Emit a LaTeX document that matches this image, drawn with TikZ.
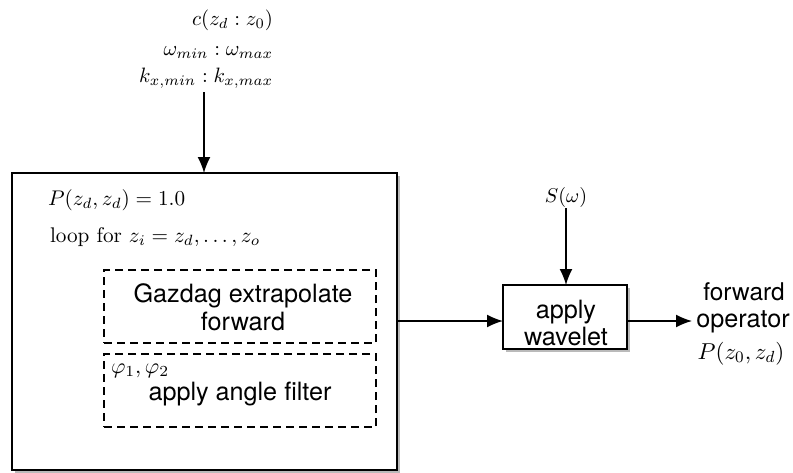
\RequirePackage{fix-cm}
\documentclass[tikz,border=0pt]{standalone}
\usepackage{fontspec}
\setsansfont{TeX Gyre Heros}
\usetikzlibrary{arrows.meta,shadows}
\begin{document}
\begin{tikzpicture}[x=0.5pt,y=-0.5pt,
  every node/.style={inner sep=0pt,outer sep=0pt},
  sans/.style={font=\sffamily\fontsize{12.6}{14}\selectfont},
  biglbl/.style={font=\fontsize{10.6}{12}\selectfont},
  toplbl/.style={font=\fontsize{10.4}{12}\selectfont},
  mainbox/.style={draw,line width=1pt,fill=white,drop shadow={shadow xshift=1.6pt,shadow yshift=-1.6pt,fill=black!45,opacity=0.6}},
  dashbox/.style={draw,dashed,line width=0.7pt,dash pattern=on 4pt off 2.5pt},
  conn/.style={line width=0.8pt,-{Latex[length=8pt,width=6.5pt]}}]
\useasboundingbox (0,0) rectangle (793,472);
% main box
\node[mainbox,anchor=north west,minimum width=192.5pt,minimum height=148.5pt] (main) at (12,173) {};
\node[biglbl,anchor=base west] (pinit) at (48,205) {$P(z_d,z_d)=1.0$};
\node[biglbl,anchor=base west] (loop) at (50,242) {loop for $z_i=z_d,\ldots,z_o$};
\node[dashbox,anchor=north west,minimum width=136pt,minimum height=36.5pt] (gaz) at (104,270) {};
\node[sans,anchor=base] (gaztxt1) at (243,302) {Gazdag extrapolate};
\node[sans,anchor=base] (gaztxt2) at (243,330) {forward};
\node[dashbox,anchor=north west,minimum width=136pt,minimum height=36.5pt] (ang) at (104,354) {};
\node[sans,anchor=base] (angtxt) at (240,400) {apply angle filter};
\node[font=\fontsize{11}{12}\selectfont,anchor=base west] (phi) at (111,373) {$\varphi_1,\varphi_2$};
% top inputs
\node[toplbl,anchor=base east] (c) at (273,25) {$c(z_d:z_0)$};
\node[toplbl,anchor=base east] (om) at (273,55) {$\omega_{min}:\omega_{max}$};
\node[toplbl,anchor=base east] (kx) at (273,82) {$k_{x,min}:k_{x,max}$};
\coordinate (ktop) at (204,92);
\draw[conn] (ktop) -- (ktop |- main.north);
% wavelet
\node[mainbox,anchor=north west,minimum width=62pt,minimum height=32pt] (wav) at (503,285) {};
\node[sans,anchor=base] (wav1) at (566,318) {apply};
\node[sans,anchor=base] (wav2) at (566,345) {wavelet};
\node[font=\fontsize{10}{12}\selectfont,anchor=base] (S) at (566,202) {$S(\omega)$};
\coordinate (stop) at (566,208);
\draw[conn] (stop) -- (stop |- wav.north);
\coordinate (mainout) at (397,321);
\draw[conn] (mainout) -- (mainout -| wav.west);
\coordinate (outend) at (692,321);
\draw[conn] (wav.east |- outend) -- (outend);
\node[sans,font=\sffamily\fontsize{12.2}{14}\selectfont,anchor=base] (fwd1) at (744,300) {forward};
\node[sans,anchor=base] (fwd2) at (743,327) {operator};
\node[font=\fontsize{11.5}{12}\selectfont,anchor=base] (pout) at (741,359) {$P(z_0,z_d)$};
\end{tikzpicture}
\end{document}
